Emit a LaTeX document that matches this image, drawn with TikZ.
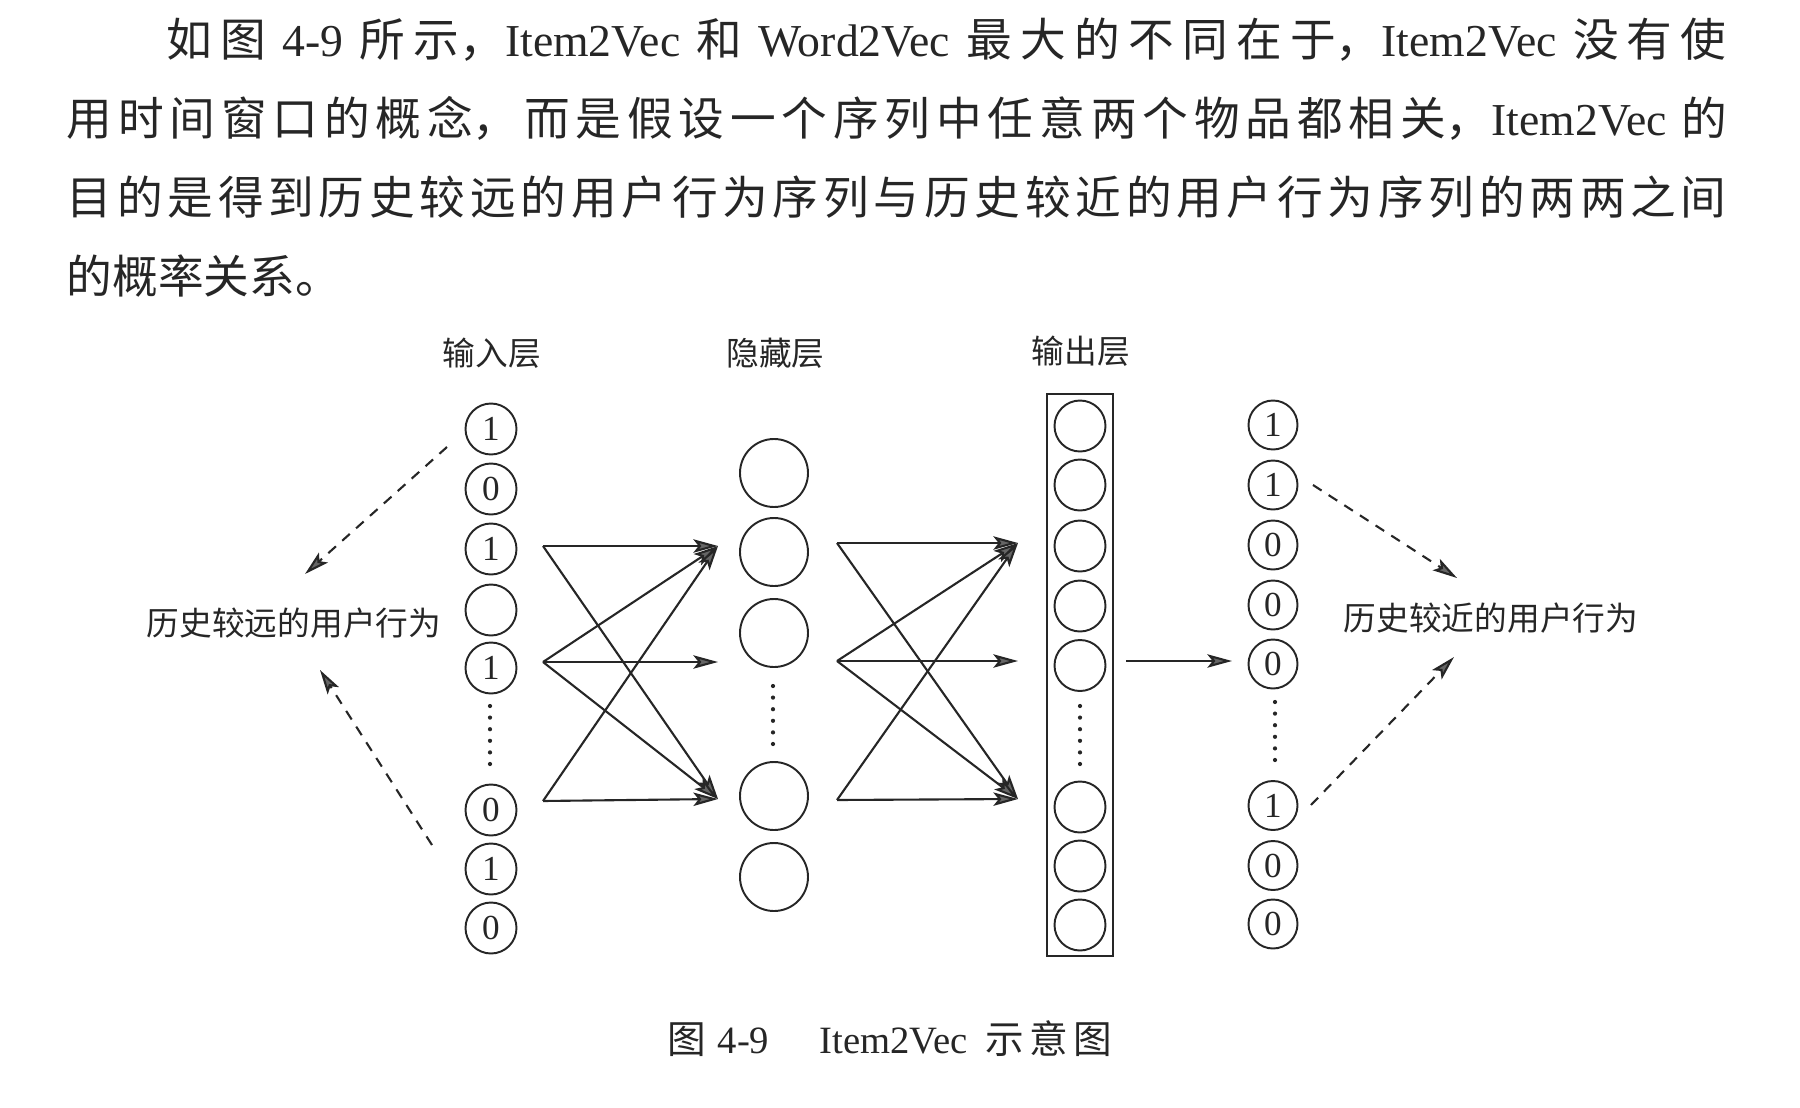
\documentclass[tikz,border=0pt]{standalone}
\usepackage{fontspec}
\setmainfont{Noto Sans CJK SC}
\newfontfamily\lat{Liberation Serif}
\XeTeXlinebreaklocale "zh"
\XeTeXlinebreakskip=0pt plus 2pt
\usetikzlibrary{positioning, arrows.meta}

\definecolor{ink}{gray}{0.15}
\definecolor{tipgray}{gray}{0.4}

\tikzset{
  unitnode/.style={circle, draw=ink, line width=0.55pt, minimum size=0.51cm,
    inner sep=0pt, text=ink, font=\lat\fontsize{10}{10}\selectfont},
  hidnode/.style={unitnode, minimum size=0.68cm},
  layerlab/.style={font=\fontsize{9.3}{9.3}\selectfont, text=ink},
  link/.style={draw=ink, line width=0.6pt,
    -{Stealth[length=7pt, width=3.8pt, inset=1.5pt, fill=tipgray]}},
  hintarrow/.style={link, dash pattern=on 2.9pt off 2.4pt},
  vdots/.style={draw=ink, line width=1.2pt, line cap=round, dash pattern=on 0pt off 3.3pt},
}

\begin{document}
\begin{tikzpicture}

\useasboundingbox (0, 0) rectangle (18, -11.08);

% --- Paragraph ---
\node[anchor=north west, inner sep=0pt, text width=16.6cm, align=justify,
  font=\fontsize{13}{22.5}\selectfont, text=ink] (para) at (0.66, -0.17)
  {\hspace*{1.0cm}如图 {\lat 4-9} 所示，{\lat Item2Vec} 和 {\lat Word2Vec} 最大的不同在于，{\lat Item2Vec} 没有使\linebreak
   用时间窗口的概念，而是假设一个序列中任意两个物品都相关，{\lat Item2Vec} 的\linebreak
   目的是得到历史较远的用户行为序列与历史较近的用户行为序列的两两之间\linebreak
   的概率关系。};

% --- Layer titles ---
\node[layerlab] (inlab) at (4.92, -3.53) {输入层};
\node[layerlab] (hidlab) at (7.755, -3.53) {隐藏层};
\node[layerlab] (outlab) at (10.81, -3.51) {输出层};
\node[layerlab] (farlab) at (2.94, -6.23) {历史较远的用户行为};
\node[layerlab] (nearlab) at (14.91, -6.18) {历史较近的用户行为};

% --- Input layer ---
\foreach \i/\y/\b in {1/4.29/1, 2/4.89/0, 3/5.49/1, 4/6.10/{}, 5/6.68/1, 6/8.10/0, 7/8.69/1, 8/9.28/0} {
  \node[unitnode] (in\i) at (4.91, -\y) {\b};
}
\draw[vdots] (4.90, -7.06) -- (4.90, -7.66);

% --- Hidden layer ---
\foreach \i/\y in {1/4.73, 2/5.52, 3/6.33, 4/7.96, 5/8.77} {
  \node[hidnode] (hid\i) at (7.74, -\y) {};
}
\draw[vdots] (7.73, -6.86) -- (7.73, -7.45);

% --- Output layer ---
\node[draw=ink, line width=0.55pt, minimum width=0.66cm, minimum height=5.62cm,
  inner sep=0pt] (outbox) at (10.80, -6.75) {};
\foreach \i/\y in {1/4.26, 2/4.85, 3/5.46, 4/6.06, 5/6.655, 6/8.07, 7/8.66, 8/9.25} {
  \node[unitnode] (out\i) at (10.80, -\y) {};
}
\draw[vdots] (10.80, -7.06) -- (10.80, -7.69);

% --- Target vector ---
\foreach \i/\y/\b in {1/4.25/1, 2/4.85/1, 3/5.45/0, 4/6.05/0, 5/6.64/0, 6/8.055/1, 7/8.655/0, 8/9.24/0} {
  \node[unitnode, minimum size=0.49cm] (tgt\i) at (12.73, -\y) {\b};
}
\draw[vdots] (12.75, -7.02) -- (12.75, -7.63);

% --- Connections input -> hidden ---
\coordinate (a1) at (5.43, -5.46);
\coordinate (a2) at (5.43, -6.62);
\coordinate (a3) at (5.43, -8.01);
\coordinate (b1) at (7.18, -5.46);
\coordinate (b2) at (7.18, -6.62);
\coordinate (b3) at (7.18, -7.99);
\foreach \s/\t in {1/1, 1/3, 2/1, 2/2, 2/3, 3/1, 3/3} {
  \draw[link] (a\s) -- (b\t);
}

% --- Connections hidden -> output ---
\coordinate (c1) at (8.37, -5.43);
\coordinate (c2) at (8.37, -6.61);
\coordinate (c3) at (8.37, -8.00);
\coordinate (d1) at (10.18, -5.43);
\coordinate (d2) at (10.18, -6.61);
\coordinate (d3) at (10.18, -7.99);
\foreach \s/\t in {1/1, 1/3, 2/1, 2/2, 2/3, 3/1, 3/3} {
  \draw[link] (c\s) -- (d\t);
}

% --- Output -> target ---
\coordinate (e1) at (11.26, -6.61);
\coordinate (e2) at (12.32, -6.61);
\draw[link] (e1) -- (e2);

% --- Dashed hints ---
\coordinate (f1) at (4.47, -4.47);
\coordinate (f2) at (3.05, -5.74);
\coordinate (g1) at (4.32, -8.45);
\coordinate (g2) at (3.20, -6.70);
\coordinate (h1) at (13.13, -4.85);
\coordinate (h2) at (14.57, -5.78);
\coordinate (k1) at (13.11, -8.05);
\coordinate (k2) at (14.54, -6.57);
\draw[hintarrow] (f1) -- (f2);
\draw[hintarrow] (g1) -- (g2);
\draw[hintarrow] (h1) -- (h2);
\draw[hintarrow] (k1) -- (k2);

% --- Caption ---
\node[font=\fontsize{11}{11}\selectfont, text=ink] (cap) at (8.90, -10.39)
  {图\hspace{0.3em}{\lat 4-9}\hspace{1.3em}{\lat Item2Vec}\hspace{0.45em}示\hspace{0.15em}意\hspace{0.15em}图};

\end{tikzpicture}
\end{document}
